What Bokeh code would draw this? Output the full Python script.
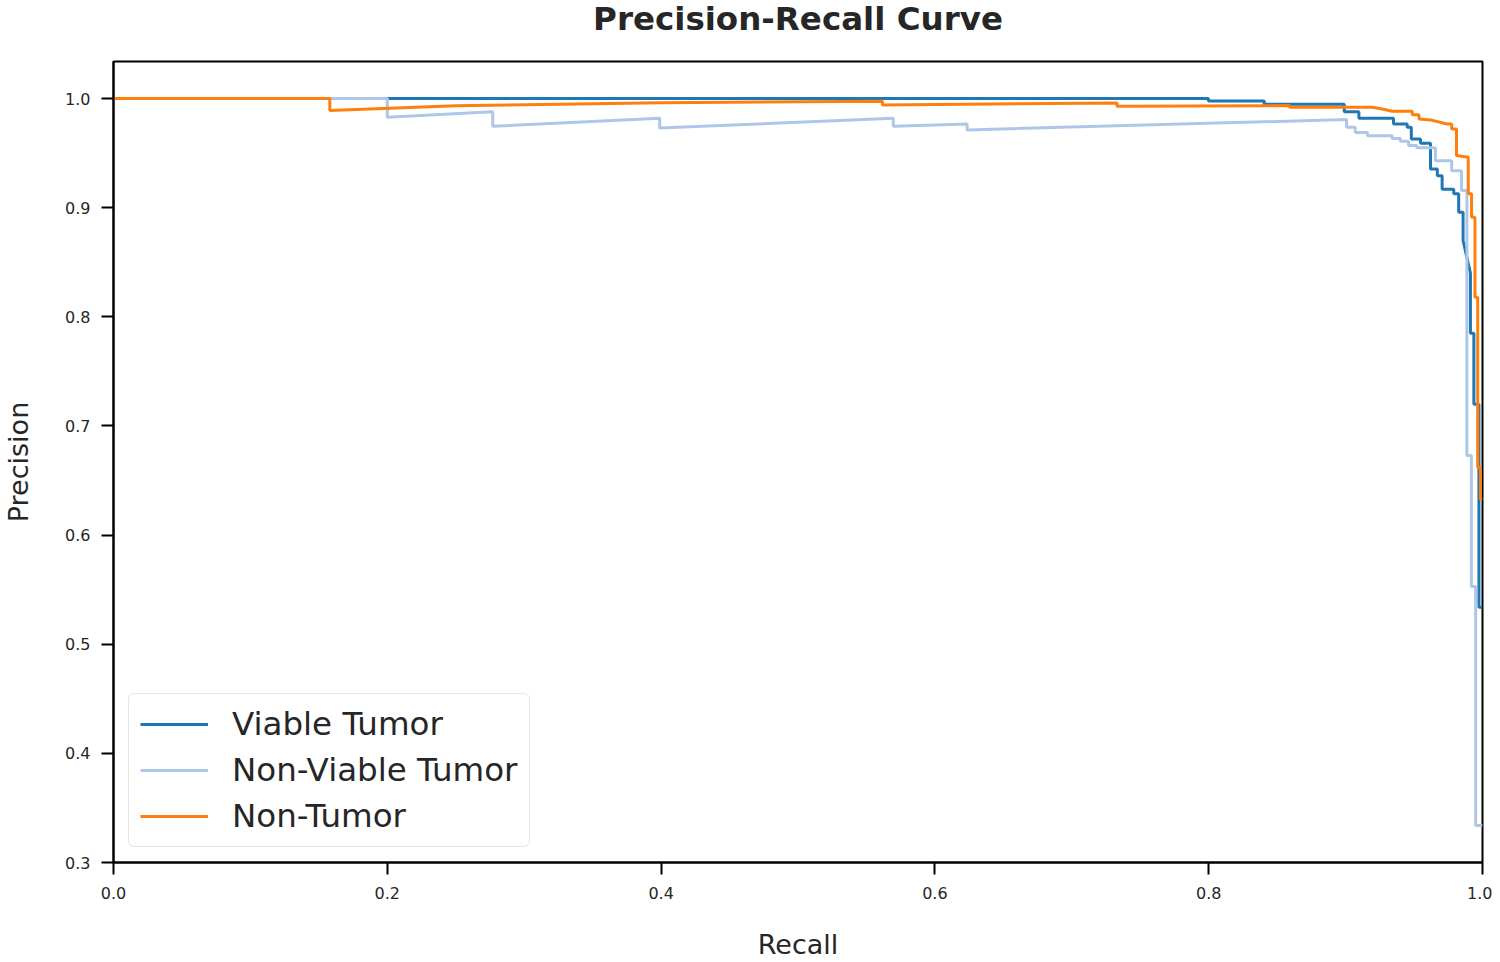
from bokeh.plotting import figure
from bokeh.embed import file_html
from bokeh.resources import INLINE
from bokeh.models import FixedTicker, PrintfTickFormatter, Range1d, Legend, Label

# ---- data ----
recall_viable = [0.0, 0.7998, 0.7998, 0.8406, 0.8406, 0.899, 0.899, 0.9097, 0.9097, 0.935, 0.935,
                 0.945, 0.945, 0.948, 0.948, 0.9547, 0.9547, 0.962, 0.962, 0.967, 0.967, 0.9705,
                 0.9705, 0.979, 0.979, 0.9826, 0.9826, 0.9858, 0.9858, 0.9912, 0.9912, 0.9937,
                 0.9937, 0.9974, 0.9974, 1.0]
precision_viable = [1.0, 1.0, 0.9978, 0.9978, 0.9948, 0.9948, 0.988, 0.988, 0.982, 0.982, 0.9768,
                    0.9768, 0.9737, 0.9737, 0.963, 0.963, 0.959, 0.959, 0.9356, 0.9356, 0.9294, 0.9294,
                    0.917, 0.917, 0.9127, 0.9127, 0.8958, 0.8958, 0.87, 0.84, 0.785, 0.785,
                    0.72, 0.72, 0.534, 0.534]

recall_nonviable = [0.0, 0.2, 0.2, 0.277, 0.277, 0.399, 0.399, 0.5696, 0.5696, 0.6235, 0.6235,
                    0.9007, 0.9007, 0.907, 0.907, 0.916, 0.916, 0.934, 0.934, 0.940, 0.940, 0.946,
                    0.946, 0.952, 0.952, 0.9656, 0.9656, 0.9775, 0.9775, 0.9847, 0.9847, 0.9886,
                    0.9886, 0.9919, 0.9919, 0.995, 0.995, 1.0]
precision_nonviable = [1.0, 1.0, 0.983, 0.988, 0.9746, 0.982, 0.973, 0.982, 0.9746, 0.9768, 0.9713,
                       0.9808, 0.9737, 0.9737, 0.969, 0.969, 0.966, 0.966, 0.9634, 0.9634, 0.961, 0.961,
                       0.957, 0.957, 0.955, 0.955, 0.943, 0.943, 0.934, 0.934, 0.9157, 0.9157,
                       0.673, 0.673, 0.553, 0.553, 0.334, 0.334]

recall_nontumor = [0.0, 0.158, 0.158, 0.25, 0.4, 0.5617, 0.5617, 0.733, 0.733, 0.859, 0.859, 0.9194,
                   0.9267, 0.934, 0.9487, 0.9487, 0.9536, 0.9536, 0.962, 0.974, 0.9775, 0.9775,
                   0.981, 0.981, 0.9896, 0.9896, 0.992, 0.992, 0.9945, 0.9945, 0.9965, 0.9965,
                   0.9985, 0.9985, 1.0]
precision_nontumor = [1.0, 1.0, 0.989, 0.9935, 0.9963, 0.9975, 0.9942, 0.996, 0.993, 0.9936, 0.9921,
                      0.9921, 0.9905, 0.9884, 0.9884, 0.9853, 0.9853, 0.9814, 0.9805, 0.9768, 0.9768,
                      0.9722, 0.9722, 0.9478, 0.9462, 0.9127, 0.9127, 0.8913, 0.8913, 0.818, 0.818,
                      0.662, 0.662, 0.633, 0.633]

series_names = ["Viable Tumor", "Non-Viable Tumor", "Non-Tumor"]
series_colors = ["#1f77b4", "#aec7e8", "#ff7f0e"]
x_ticks = [0.0, 0.2, 0.4, 0.6, 0.8, 1.0]
y_ticks = [0.3, 0.4, 0.5, 0.6, 0.7, 0.8, 0.9, 1.0]
title_text = "Precision-Recall Curve"

FONT = "DejaVu Sans"
TXT = "#262626"

W, H = 1492, 962
BL, BR, BT, BB = 113, 10, 61, 100

p = figure(width=W, height=H, output_backend="svg", toolbar_location=None,
           x_range=Range1d(0.0, 1.0), y_range=Range1d(0.3, 1.034),
           min_border_left=BL, min_border_right=BR, min_border_top=BT, min_border_bottom=BB)

p.xgrid.visible = False
p.ygrid.visible = False
p.outline_line_color = "black"
p.outline_line_width = 2
p.background_fill_color = "white"
p.border_fill_color = "white"

xs = [recall_viable, recall_nonviable, recall_nontumor]
ys = [precision_viable, precision_nonviable, precision_nontumor]
renderers = []
for x, y, c in zip(xs, ys, series_colors):
    renderers.append(p.line(x, y, line_color=c, line_width=3))

for ax in (p.xaxis[0], p.yaxis[0]):
    ax.axis_line_color = "black"
    ax.axis_line_width = 2
    ax.major_tick_line_color = "black"
    ax.major_tick_line_width = 2
    ax.major_tick_out = 12
    ax.major_tick_in = 0
    ax.minor_tick_line_color = None
    ax.major_label_text_font = FONT
    ax.major_label_text_font_size = "16px"
    ax.major_label_text_color = TXT
    ax.axis_label_text_font = FONT
    ax.axis_label_text_font_size = "27px"
    ax.axis_label_text_font_style = "normal"
    ax.axis_label_text_color = TXT
    ax.formatter = PrintfTickFormatter(format="%.1f")

p.xaxis[0].ticker = FixedTicker(ticks=x_ticks)
p.yaxis[0].ticker = FixedTicker(ticks=y_ticks)
p.xaxis[0].axis_label = "Recall"
p.yaxis[0].axis_label = "Precision"
p.xaxis[0].major_label_standoff = 12
p.yaxis[0].major_label_standoff = 11
p.xaxis[0].axis_label_standoff = 27
p.yaxis[0].axis_label_standoff = 28

# title drawn as a label in the top border panel (screen units from the panel's bottom-left)
frame_w = W - BL - BR
title_label = Label(x=frame_w / 2, y=BT - 18, x_units="screen", y_units="screen",
                    text=title_text, text_font=FONT, text_font_style="bold",
                    text_font_size="32.5px", text_color=TXT,
                    text_align="center", text_baseline="middle")
p.add_layout(title_label, "above")

legend = Legend(items=[(n, [r]) for n, r in zip(series_names, renderers)],
                location=(15, 15))
legend.label_text_font = FONT
legend.label_text_font_size = "32.5px"
legend.label_text_color = TXT
legend.label_standoff = 24
legend.glyph_width = 68
legend.glyph_height = 38
legend.label_height = 38
legend.spacing = 8
legend.padding = 11
legend.margin = 0
legend.border_line_color = "#cccccc"
legend.border_line_width = 1.5
legend.background_fill_alpha = 0.8
if "border_radius" in Legend.properties():
    legend.border_radius = 6
p.add_layout(legend, "center")

open("out.html", "w").write(file_html(p, INLINE))
